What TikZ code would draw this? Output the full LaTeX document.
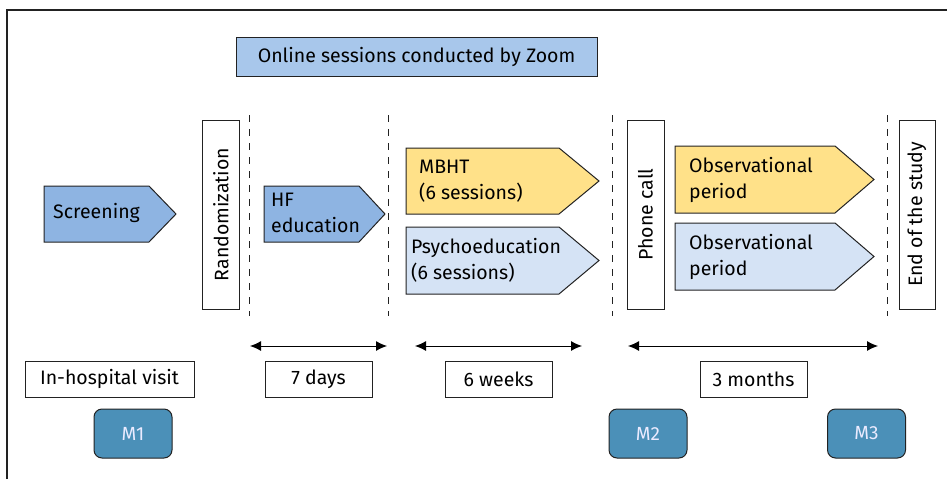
\documentclass[tikz,border=0pt]{standalone}
\usepackage{fontspec}
\setmainfont{Fira Sans}
\usetikzlibrary{arrows.meta}
\definecolor{zoomblue}{HTML}{A8C7EB}
\definecolor{midblue}{HTML}{8EB4E2}
\definecolor{paleblue}{HTML}{D5E3F5}
\definecolor{softyellow}{HTML}{FFE189}
\definecolor{mblue}{HTML}{4B90B8}
\definecolor{edge}{HTML}{222222}
\newcommand\pentshape[6]{\draw[#1] (#2,#3) -- (#4,#3) -- (#5,{(#3+#6)/2}) -- (#4,#6) -- (#2,#6) -- cycle;}
\begin{document}
\begin{tikzpicture}[x=1pt,y=-1pt,
  txt/.style={font=\fontsize{19.5}{26}\selectfont, inner sep=0pt, text=black},
  shp/.style={draw=edge, line width=1pt},
  plainbox/.style={draw=edge, line width=1pt, fill=white, inner sep=0pt, font=\fontsize{19.5}{26}\selectfont},
  mbox/.style={draw=edge, line width=1pt, fill=mblue, rounded corners=8pt, inner sep=0pt, minimum width=78pt, minimum height=49pt, text=white!92!blue, font=\fontsize{19}{26}\selectfont},
  sepline/.style={dash pattern=on 7pt off 7pt, line width=0.9pt, draw=edge},
  span/.style={{Latex[length=11pt,width=10pt]}-{Latex[length=11pt,width=10pt]}, line width=1pt, draw=black}
]
\useasboundingbox (0,0) rectangle (947,479);
\draw[line width=1.3pt, draw=edge] (7,479) -- (7,10) -- (947,10);

% top box
\node[plainbox, fill=zoomblue, minimum width=361pt, minimum height=39pt] (zoom) at (416.5,56.5) {Online sessions conducted by Zoom};

% dashed separators
\foreach \x/\n in {249/d1,388/d2,612/d3,887/d4}{
  \coordinate (\n t) at (\x,115);
  \coordinate (\n b) at (\x,316);
  \draw[sepline] (\n t) -- (\n b);
}

% pentagons
\pentshape{shp, fill=midblue}{44}{186}{149}{176}{242}
\node[txt, anchor=west] (scr) at (53,213) {Screening};
\pentshape{shp, fill=midblue}{264}{186}{359}{385}{242}
\node[txt, anchor=west, align=left] (hf) at (271,213) {HF\\education};
\pentshape{shp, fill=softyellow}{406}{148}{559}{599}{214}
\node[txt, anchor=west, align=left] (mbht) at (419,181) {MBHT\\(6 sessions)};
\pentshape{shp, fill=paleblue}{406}{227}{559}{599}{294}
\node[txt, anchor=west, align=left] (psy) at (411,260) {Psychoeducation\\(6 sessions)};
\pentshape{shp, fill=softyellow}{675}{146}{835}{874}{213}
\node[txt, anchor=west, align=left] (obs1) at (689,180) {Observational\\period};
\pentshape{shp, fill=paleblue}{675}{223}{835}{874}{290}
\node[txt, anchor=west, align=left] (obs2) at (689,257) {Observational\\period};

% vertical boxes
\node[plainbox, minimum width=37pt, minimum height=189pt] (rand) at (221,214.5) {};
\node[txt, rotate=90] (randt) at (rand.center) {Randomization};
\node[plainbox, minimum width=37pt, minimum height=189pt] (phone) at (645.5,214.5) {};
\node[txt, rotate=90] (phonet) at (phone.center) {Phone call};
\node[plainbox, minimum width=36pt, minimum height=189pt] (end) at (917,214.5) {};
\node[txt, rotate=90] (endt) at (end.center) {End of the study};

% span arrows
\coordinate (a1l) at (250,346); \coordinate (a1r) at (387,346);
\coordinate (a2l) at (415,346); \coordinate (a2r) at (582,346);
\coordinate (a3l) at (628,346); \coordinate (a3r) at (878,346);
\draw[span] (a1l) -- (a1r);
\draw[span] (a2l) -- (a2r);
\draw[span] (a3l) -- (a3r);

% labels
\node[plainbox, minimum width=169pt, minimum height=36pt] (visit) at (109.5,379) {In-hospital visit};
\node[plainbox, minimum width=107pt, minimum height=36pt] (days) at (318.5,379) {7 days};
\node[plainbox, minimum width=107pt, minimum height=36pt] (weeks) at (498.5,379) {6 weeks};
\node[plainbox, minimum width=107pt, minimum height=36pt] (months) at (753.5,379) {3 months};

% measurement points
\node[mbox] (m1) at (133,433.5) {M1};
\node[mbox] (m2) at (648,433.5) {M2};
\node[mbox] (m3) at (866.5,433.5) {M3};
\end{tikzpicture}
\end{document}
